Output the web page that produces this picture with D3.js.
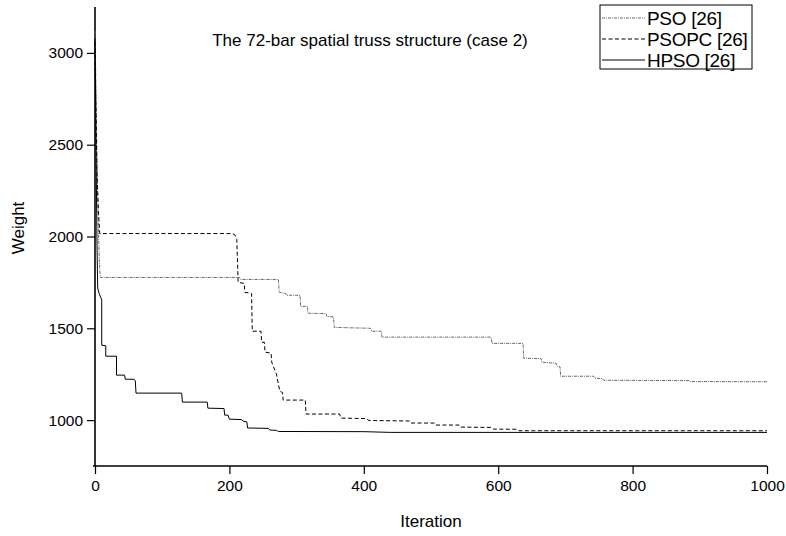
<!DOCTYPE html>
<html>
<head>
<meta charset="utf-8">
<script src="https://cdn.jsdelivr.net/npm/d3@7"></script>
<style>
  body { margin: 0; background: #fff; }
  svg text { font-family: "Liberation Sans", Arial, sans-serif; fill: #000; }
</style>
</head>
<body>
<svg width="786" height="536"></svg>
<script>
// data: [iteration, weight]
const pso = [[0,3120],[1,2900],[2,2650],[3,2400],[4,2200],[5,2050],[6,1920],[7,1820],[8,1777],
  [215,1777],[217,1766],[273,1766],[274,1696],[284,1690],[285,1680],[305,1680],[306,1620],[316,1620],
  [317,1582],[344,1580],[345,1565],[355,1562],[356,1505],[410,1500],[412,1484],[426,1484],[427,1452],
  [589,1452],[591,1418],[637,1418],[638,1337],[664,1335],[665,1315],[686,1310],[688,1293],[692,1290],
  [693,1239],[742,1239],[744,1228],[755,1226],[757,1217],[884,1215],[886,1210],[1000,1209]]
const psopc = [[0,3060],[1,2800],[2,2550],[3,2350],[5,2150],[7,2016],[204,2016],[208,2010],[211,1984],
  [213,1750],[222,1745],[223,1696],[233,1690],[234,1484],[247,1484],[248,1424],[252,1424],[253,1370],
  [262,1365],[263,1315],[270,1250],[275,1158],[279,1150],[280,1109],[313,1109],[314,1033],[364,1033],
  [366,1011],[405,1008],[407,998],[468,995],[470,984],[505,984],[507,973],[542,973],[544,962],[590,960],
  [593,951],[628,950],[631,942],[1000,942]]
const hpso = [[0,3080],[1,2700],[2,2300],[3,1950],[4,1720],[6,1690],[10,1655],[10,1408],[16,1405],
  [16,1348],[32,1348],[32,1245],[44,1245],[45,1223],[58,1222],[60,1215],[61,1147],[129,1147],[130,1098],
  [167,1098],[168,1065],[192,1063],[193,1027],[198,1027],[200,1005],[218,1003],[220,995],[226,990],
  [227,957],[258,955],[260,946],[270,944],[273,938],[400,937],[440,933],[1000,933]]

const seriesNames = ["PSO [26]", "PSOPC [26]", "HPSO [26]"]
const xTicks = [0, 200, 400, 600, 800, 1000]
const yTicks = [1000, 1500, 2000, 2500, 3000]

const svg = d3.select("svg")

const x = d3.scaleLinear().domain([0, 1000]).range([95, 767])
const y = d3.scaleLinear().domain([750, 3250]).range([466, 7])

// axes
const xAxis = svg.append("g").attr("transform", "translate(0,466)")
xAxis.call(d3.axisBottom(x).tickValues(d3.range(100, 1000, 200)).tickSize(4).tickFormat(""))
xAxis.call(d3.axisBottom(x).tickValues(xTicks).tickSize(8).tickPadding(6).tickFormat(d3.format("d")))
xAxis.selectAll("path.domain").attr("d", "M93,0H767").attr("stroke-width", 1.6)

const yAxis = svg.append("g").attr("transform", "translate(95,0)")
yAxis.call(d3.axisLeft(y).tickValues([1250, 1750, 2250, 2750, 3250]).tickSize(4).tickFormat(""))
yAxis.call(d3.axisLeft(y).tickValues(yTicks).tickSize(8).tickPadding(4).tickFormat(d3.format("d")))
yAxis.selectAll("path.domain").attr("d", "M0,7V466").attr("stroke-width", 1.6)

svg.selectAll(".tick line").attr("stroke", "#000").attr("stroke-width", 1.2)
svg.selectAll(".tick text").attr("font-size", 15.5).attr("font-family", null)

// lines
const line = d3.line().x(d => x(d[0])).y(d => y(d[1]))
const styles = [
  {data: pso, stroke: "#666", dash: "3,1,1,1", width: 1},
  {data: psopc, stroke: "#000", dash: "4,2.5", width: 1},
  {data: hpso, stroke: "#000", dash: null, width: 1}
]
svg.append("g").selectAll("path")
  .data(styles)
  .enter().append("path")
  .attr("d", d => line(d.data))
  .attr("fill", "none")
  .attr("stroke", d => d.stroke)
  .attr("stroke-width", d => d.width)
  .attr("stroke-dasharray", d => d.dash)

// titles
svg.append("text")
  .attr("x", 370).attr("y", 46)
  .attr("text-anchor", "middle").attr("font-size", 17)
  .text("The 72-bar spatial truss structure (case 2)")

svg.append("text")
  .attr("x", 431).attr("y", 527)
  .attr("text-anchor", "middle").attr("font-size", 17)
  .text("Iteration")

svg.append("text")
  .attr("transform", "translate(24,228) rotate(-90)")
  .attr("text-anchor", "middle").attr("font-size", 17)
  .text("Weight")

// legend
const legend = svg.append("g")
legend.append("rect")
  .attr("x", 600).attr("y", 5).attr("width", 152).attr("height", 64)
  .attr("fill", "#fff").attr("stroke", "#000").attr("stroke-width", 1)
const rows = legend.selectAll("g.row")
  .data(styles)
  .enter().append("g")
  .attr("transform", (d, i) => `translate(0,${18 + i * 21})`)
rows.append("line")
  .attr("x1", 602).attr("x2", 645)
  .attr("stroke", d => d.stroke)
  .attr("stroke-width", d => d.width)
  .attr("stroke-dasharray", d => d.dash)
rows.append("text")
  .attr("x", 647).attr("dy", "0.36em")
  .attr("font-size", 19)
  .attr("letter-spacing", -0.3)
  .text((d, i) => seriesNames[i])
</script>
</body>
</html>
